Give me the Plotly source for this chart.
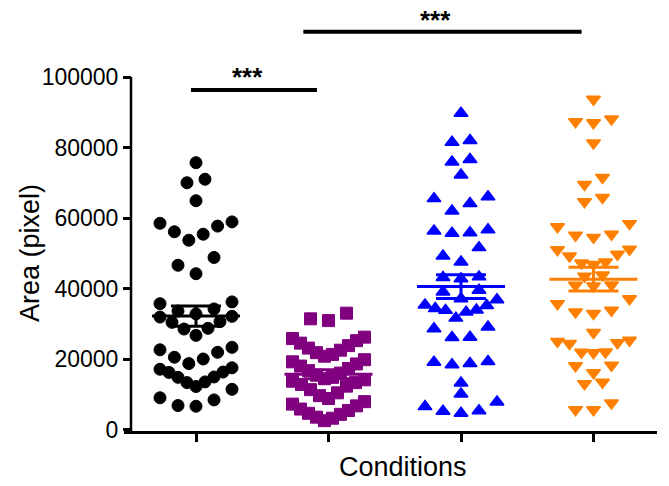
import numpy as np
import plotly.graph_objects as go

# Area measurements (pixel) for each condition
cond1_area = [6600, 6800, 8400, 9000, 11400,
              12200, 13300, 13500, 14800, 14900, 16200, 16300, 17100, 17500,
              18700, 20000, 20500, 21900, 22600, 23300,
              26700, 28500, 28700, 30400, 30600, 31900, 32100,
              32800, 33600, 34200, 35700, 36200,
              44200, 46600, 48800,
              53700, 55400, 56100, 57700, 58500, 58900,
              64900, 70000, 71000, 75700]

cond2_area = [2500, 3200, 3500, 4300, 4600, 5400, 5800, 6700, 7200, 7900,
              8800, 9600, 10400, 11300, 12300, 12800, 13300, 13700, 14100,
              14400, 14800, 15400, 16000, 16700, 17300, 18000, 18600, 19200, 19800,
              20800, 21300, 21800, 22500, 23100, 23800, 24500, 25200, 25800, 26200,
              30900, 31400, 33000]

cond3_area = [4600, 5200, 5300, 6500, 7800, 10100, 13200,
              18400, 18700, 19100, 19300,
              26100, 26200, 28600, 29100,
              31600, 33300, 33800, 33900, 34300, 35200, 35300, 36800,
              37100, 39000, 39500, 42800, 43100, 43300,
              47500, 49200, 51600,
              55700, 55800, 56300, 56700,
              62000, 64100, 65500, 66000,
              72200, 75900, 76600, 81500, 82000, 89700]

cond4_area = [5600, 5600, 7500, 13000, 13400, 16100, 18100, 18200,
              21800, 21900, 22000, 24400, 24600, 25000, 25300, 27500,
              32900, 33300, 33800, 35700, 37100,
              40700, 40900, 41000, 43500, 43800,
              46800, 47200, 47500, 49200, 49700, 51000, 51100,
              54500, 55100, 55400, 57500, 58400,
              64600, 65800, 69500, 71500, 81300,
              87000, 87300, 88100, 93700]

y_tick_values = [0, 20000, 40000, 60000, 80000, 100000]
y_tick_labels = ["0", "20000", "40000", "60000", "80000", "100000"]

FONT = "Liberation Sans, Arial, Helvetica, sans-serif"
PX_PER_CAT = 132.5                 # horizontal pixels per category step
X_RANGE = [1 - 72 / PX_PER_CAT, 1 + 461 / PX_PER_CAT]
Y_RANGE = [-425, 120709]


def swarm_offsets(values, gap_break=2500, row_span=5500,
                  step_max=18 / PX_PER_CAT, width_max=72 / PX_PER_CAT):
    """Scatter-dot layout: values are grouped into rows and spread
    outward from the centre, lowest value in the middle."""
    values = np.asarray(values, float)
    order = np.argsort(values, kind="stable")
    offsets = np.zeros(len(values))
    rows, cur = [], [order[0]]
    for idx in order[1:]:
        v = values[idx]
        if v - values[cur[-1]] >= gap_break or v - values[cur[0]] >= row_span:
            rows.append(cur)
            cur = [idx]
        else:
            cur.append(idx)
    rows.append(cur)
    for row in rows:
        k = len(row)
        step = step_max if k < 2 else min(step_max, width_max / (k - 1))
        for rank, idx in enumerate(row):
            if k % 2:
                slot = ((rank + 1) // 2) * (-1 if rank % 2 else 1)
            else:
                half = rank // 2 + 0.5
                slot = -half if rank % 2 == 0 else half
            offsets[idx] = slot * step
    return offsets


series = [
    (1, cond1_area, "#000000", "circle", 12, 1),
    (2, cond2_area, "#800080", "square", 12, 1),
    (3, cond3_area, "#0000FF", "triangle-up", 12, 1.5),
    (4, cond4_area, "#FF8000", "triangle-down", 12, 1.5),
]

fig = go.Figure()
MEAN_HALF = 44 / PX_PER_CAT
CAP_HALF = 25 / PX_PER_CAT

for pos, vals, color, symbol, size, edge in series:
    vals = np.asarray(vals, float)
    fig.add_trace(go.Scatter(
        x=pos + swarm_offsets(vals), y=vals, mode="markers",
        marker=dict(symbol=symbol, color=color, size=size,
                    line=dict(color=color, width=edge)),
        showlegend=False, hoverinfo="skip", cliponaxis=False))

for pos, vals, color, symbol, size, edge in series:
    vals = np.asarray(vals, float)
    mean = vals.mean()
    sem = vals.std(ddof=1) / np.sqrt(len(vals))
    xs = [pos - MEAN_HALF, pos + MEAN_HALF, None,
          pos, pos, None,
          pos - CAP_HALF, pos + CAP_HALF, None,
          pos - CAP_HALF, pos + CAP_HALF]
    ys = [mean, mean, None,
          mean - sem, mean + sem, None,
          mean + sem, mean + sem, None,
          mean - sem, mean - sem]
    fig.add_trace(go.Scatter(x=xs, y=ys, mode="lines",
                             line=dict(color=color, width=3),
                             showlegend=False, hoverinfo="skip"))

Y_AXIS_POS = 7 / 533

shapes = [
    # left axis line from 0 up to the top tick
    dict(type="line", xref="paper", yref="y", x0=Y_AXIS_POS, x1=Y_AXIS_POS,
         y0=Y_RANGE[0], y1=100000, line=dict(color="black", width=2.5)),
    # significance bars
    dict(type="line", xref="x", yref="y", x0=0.962, x1=1.913, y0=96300, y1=96300,
         line=dict(color="black", width=4)),
    dict(type="line", xref="x", yref="y", x0=1.81, x1=3.91, y0=112850, y1=112850,
         line=dict(color="black", width=4)),
]

annotations = [
    dict(text="<b>***</b>", x=1.39, y=100000, xref="x", yref="y", showarrow=False,
         font=dict(family=FONT, size=26, color="black")),
    dict(text="<b>***</b>", x=2.81, y=116200, xref="x", yref="y", showarrow=False,
         font=dict(family=FONT, size=26, color="black")),
    dict(text="Conditions", x=(403 - 124) / 533, y=-36 / 427, xref="paper", yref="paper",
         showarrow=False, xanchor="center", yanchor="middle",
         font=dict(family=FONT, size=27, color="black")),
    dict(text="Area (pixel)", x=(30 - 124) / 533, y=(431 - 253) / 427,
         xref="paper", yref="paper", showarrow=False, textangle=-90,
         xanchor="center", yanchor="middle",
         font=dict(family=FONT, size=27, color="black")),
]

fig.update_layout(
    width=669, height=486,
    margin=dict(l=124, r=12, t=4, b=55),
    paper_bgcolor="white", plot_bgcolor="white",
    shapes=shapes, annotations=annotations,
    xaxis=dict(range=X_RANGE, showline=True, linecolor="black", linewidth=2.5,
               ticks="outside", ticklen=8, tickwidth=2.5, tickcolor="black",
               tickvals=[1, 2, 3, 4], showticklabels=False,
               showgrid=False, zeroline=False, fixedrange=True),
    yaxis=dict(range=Y_RANGE, anchor="free", position=Y_AXIS_POS, showline=False,
               ticks="outside", ticklen=8, tickwidth=2.5, tickcolor="black",
               tickvals=y_tick_values, ticktext=y_tick_labels,
               tickfont=dict(family=FONT, size=23, color="black"),
               showgrid=False, zeroline=False, fixedrange=True),
)

fig.write_html("out.html")
